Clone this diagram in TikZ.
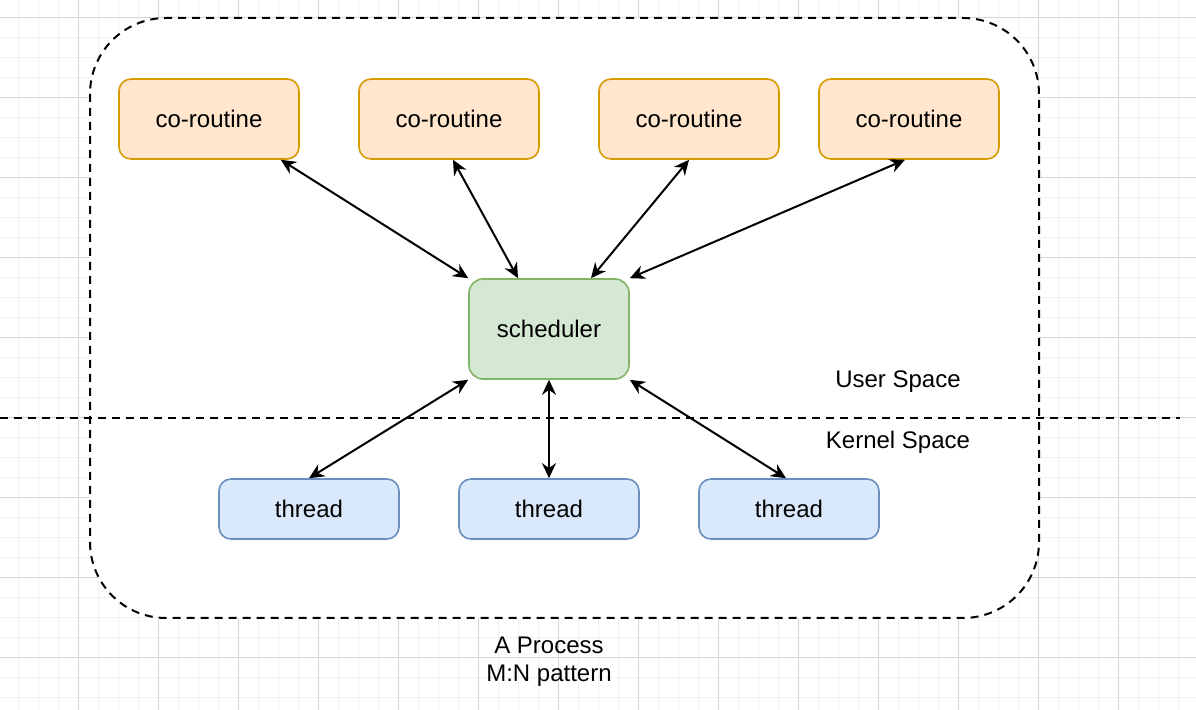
\documentclass[tikz,border=0pt]{standalone}
\usepackage{fontspec}
\setmainfont{Liberation Sans}
\usetikzlibrary{arrows.meta}
\definecolor{gridminor}{HTML}{F2F2F2}
\definecolor{gridmajor}{HTML}{D6D6D6}
\definecolor{corofill}{HTML}{FFE6CC}
\definecolor{corodraw}{HTML}{D79B00}
\definecolor{schedfill}{HTML}{D5E8D4}
\definecolor{scheddraw}{HTML}{82B366}
\definecolor{threadfill}{HTML}{DAE8FC}
\definecolor{threaddraw}{HTML}{6C8EBF}
\tikzset{
    box/.style={rounded corners=6pt, line width=0.8pt, minimum width=90pt, font=\fontsize{12}{14}\selectfont},
    coroutine/.style={box, fill=corofill, draw=corodraw, minimum height=40pt},
    scheduler/.style={box, fill=schedfill, draw=scheddraw, minimum width=80pt, minimum height=50pt, rounded corners=7pt},
    thread/.style={box, fill=threadfill, draw=threaddraw, minimum height=30pt},
    link/.style={line width=1pt, {Stealth[length=7.5pt,width=7pt]}-{Stealth[length=7.5pt,width=7pt]}},
    border/.style={dash pattern=on 4pt off 3pt, line width=1pt},
    label/.style={font=\fontsize{12}{14}\selectfont}
}
\begin{document}
\begin{tikzpicture}[x=0.5pt, y=-0.5pt]
        \useasboundingbox (0,0) rectangle (1196,710);
        % background grid
        \foreach \gx in {18,38,...,1196} \draw[gridminor, line width=0.5pt] (\gx,0) -- (\gx,710);
        \foreach \gy in {-2,18,...,710} \draw[gridminor, line width=0.5pt] (0,\gy) -- (1196,\gy);
        \foreach \gx in {78,158,...,1196} \draw[gridmajor, line width=0.5pt] (\gx,0) -- (\gx,710);
        \foreach \gy in {18,98,...,710} \draw[gridmajor, line width=0.5pt] (0,\gy) -- (1196,\gy);
        
        % process border and user/kernel split
        \draw[border, fill=white, rounded corners=38pt] (90,18) rectangle (1039,618);
        \coordinate (splitL) at (0,418);
        \coordinate (splitR) at (1180,418);
        \draw[border] (splitL) -- (splitR);
        
        \node[coroutine] (coro1) at (209,119) {co-routine};
        \node[coroutine] (coro2) at (449,119) {co-routine};
        \node[coroutine] (coro3) at (689,119) {co-routine};
        \node[coroutine] (coro4) at (909,119) {co-routine};
        \node[scheduler] (sched) at (549,329) {scheduler};
        \node[thread] (thread1) at (309,509) {thread};
        \node[thread] (thread2) at (549,509) {thread};
        \node[thread] (thread3) at (789,509) {thread};
        
        \node[label] (userspace) at (898,382) {User Space};
        \node[label] (kernelspace) at (898,442) {Kernel Space};
        \node[label, align=center] (process) at (549,662) {A Process\\M:N pattern};
        
        \draw[link] ([xshift=-9.5pt]coro1.south east) -- (sched.north west);
        \draw[link] ([xshift=2pt]coro2.south) -- ([xshift=-15.5pt]sched.north);
        \draw[link] (coro3.south) -- ([xshift=21pt]sched.north);
        \draw[link] ([xshift=-2pt]coro4.south) -- (sched.north east);
        \draw[link] (sched.south west) -- (thread1.north);
        \draw[link] (sched.south) -- (thread2.north);
        \draw[link] (sched.south east) -- ([xshift=-1.5pt]thread3.north);
    \end{tikzpicture}
\end{document}
